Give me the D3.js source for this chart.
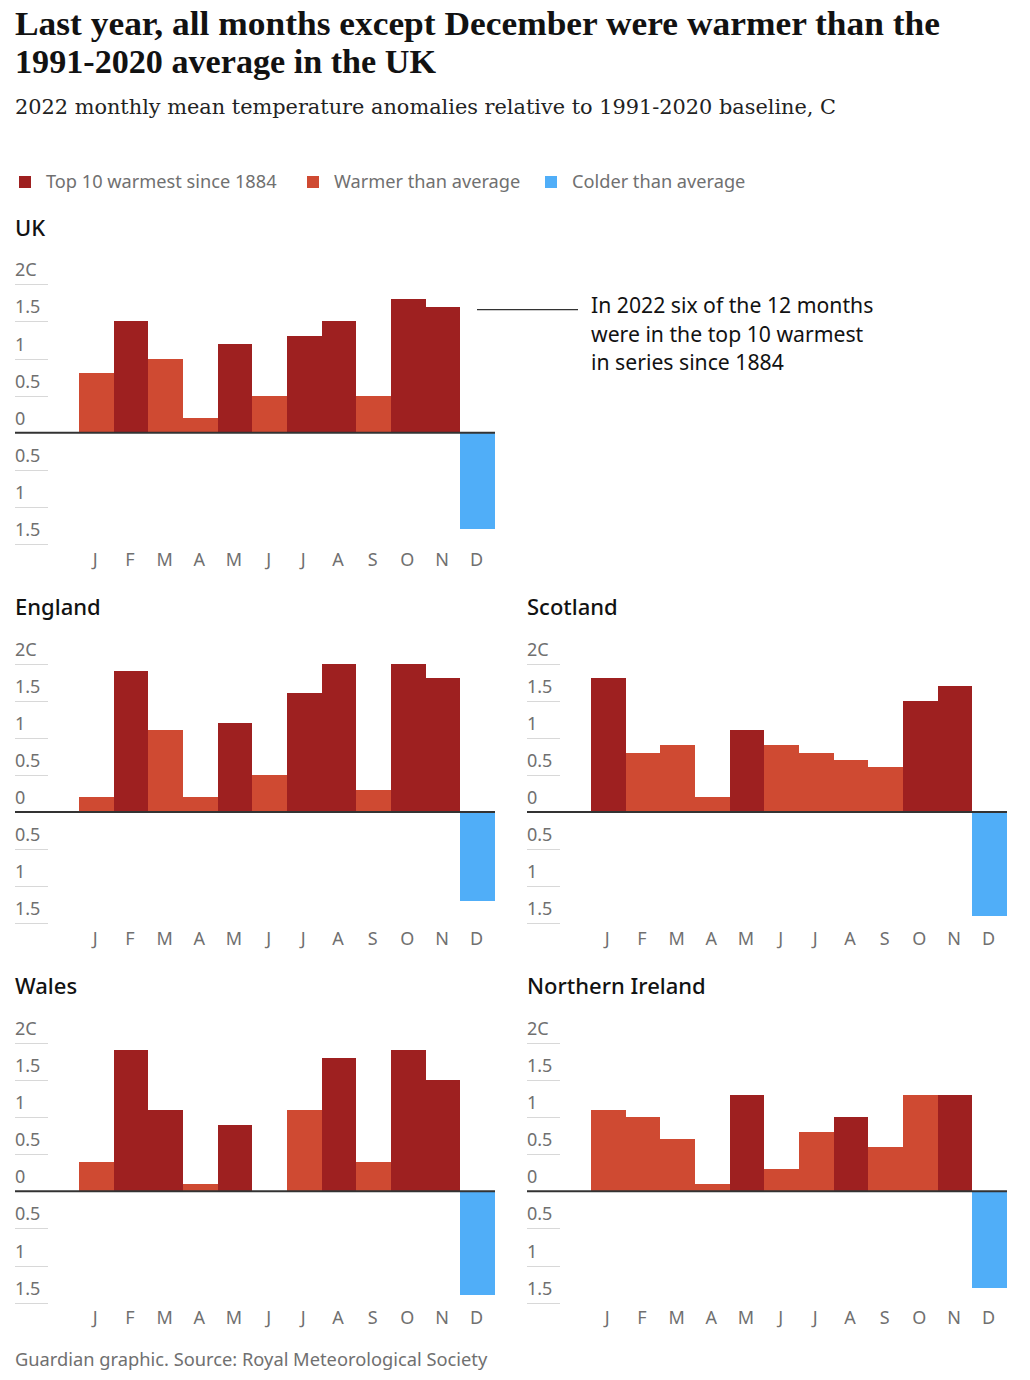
<!DOCTYPE html>
<html>
<head>
<meta charset="utf-8">
<script src="https://cdn.jsdelivr.net/npm/d3@7"></script>
<style>
  html, body { margin: 0; padding: 0; background: #fff; }
  svg { display: block; }
</style>
</head>
<body>
<svg id="chart" width="1030" height="1380"></svg>
<script>
// ---------------- DATA ----------------
const months = ["J","F","M","A","M","J","J","A","S","O","N","D"];
const tickValues = [-1.5, -1, -0.5, 0, 0.5, 1, 1.5, 2];
const tickLabels = ["1.5", "1", "0.5", "0", "0.5", "1", "1.5", "2C"];

const regionNames = ["UK", "England", "Scotland", "Wales", "Northern Ireland"];

const ukValues       = [0.8, 1.5, 1.0, 0.2, 1.2, 0.5, 1.3, 1.5, 0.5, 1.8, 1.7, -1.3];
const ukClass        = ["warm","top","warm","warm","top","warm","top","top","warm","top","top","cold"];
const englandValues  = [0.2, 1.9, 1.1, 0.2, 1.2, 0.5, 1.6, 2.0, 0.3, 2.0, 1.8, -1.2];
const englandClass   = ["warm","top","warm","warm","top","warm","top","top","warm","top","top","cold"];
const scotlandValues = [1.8, 0.8, 0.9, 0.2, 1.1, 0.9, 0.8, 0.7, 0.6, 1.5, 1.7, -1.4];
const scotlandClass  = ["top","warm","warm","warm","top","warm","warm","warm","warm","top","top","cold"];
const walesValues    = [0.4, 1.9, 1.1, 0.1, 0.9, 0.0, 1.1, 1.8, 0.4, 1.9, 1.5, -1.4];
const walesClass     = ["warm","top","top","warm","top","warm","warm","top","warm","top","top","cold"];
const niValues       = [1.1, 1.0, 0.7, 0.1, 1.3, 0.3, 0.8, 1.0, 0.6, 1.3, 1.3, -1.3];
const niClass        = ["warm","warm","warm","warm","top","warm","warm","top","warm","warm","top","cold"];

const legendKeys   = ["top", "warm", "cold"];
const legendLabels = ["Top 10 warmest since 1884", "Warmer than average", "Colder than average"];

const titleLines = ["Last year, all months except December were warmer than the", "1991-2020 average in the UK"];
const subtitle = "2022 monthly mean temperature anomalies relative to 1991-2020 baseline, C";
const annotationLines = ["In 2022 six of the 12 months", "were in the top 10 warmest", "in series since 1884"];
const footer = "Guardian graphic. Source: Royal Meteorological Society";

// ---------------- STYLE / LAYOUT ----------------
const colors = { top: "#9e2020", warm: "#cf4a32", cold: "#50aef8" };
const sans = "'Noto Sans', 'Open Sans', sans-serif";
const gray = "#707070";
const ink = "#121212";

const svg = d3.select("#chart");
const color = d3.scaleOrdinal().domain(legendKeys).range(legendKeys.map(k => colors[k]));

// Title
const title = svg.append("g");
titleLines.forEach((t, i) => {
  const tx = title.append("text")
    .attr("x", 15).attr("y", 35 + i * 38)
    .attr("font-family", "'Liberation Serif', 'Times New Roman', serif")
    .attr("font-weight", 700).attr("font-size", 34)
    .attr("fill", ink).text(t);
  const target = i === 0 ? 925 : 421;
  tx.attr("textLength", target).attr("lengthAdjust", "spacingAndGlyphs");
});

svg.append("text")
  .attr("x", 15).attr("y", 114)
  .attr("font-family", "'DejaVu Serif', serif")
  .attr("font-size", 19.5).attr("fill", "#222")
  .attr("textLength", 821).attr("lengthAdjust", "spacingAndGlyphs")
  .text(subtitle);

// Legend
const legendX = [19, 307, 545];
const legend = svg.append("g");
legendKeys.forEach((k, i) => {
  legend.append("rect")
    .attr("x", legendX[i]).attr("y", 176).attr("width", 12).attr("height", 12)
    .attr("fill", color(k));
  legend.append("text")
    .attr("x", legendX[i] + 27).attr("y", 188)
    .attr("font-family", sans).attr("font-size", 18.2)
    .attr("fill", gray).text(legendLabels[i]);
});

// Panels
const perC = 74.2;
const panels = [
  { name: regionNames[0], values: ukValues,       cls: ukClass,       x0: 15,  zero: 432.7 },
  { name: regionNames[1], values: englandValues,  cls: englandClass,  x0: 15,  zero: 812 },
  { name: regionNames[2], values: scotlandValues, cls: scotlandClass, x0: 527, zero: 812 },
  { name: regionNames[3], values: walesValues,    cls: walesClass,    x0: 15,  zero: 1191.3 },
  { name: regionNames[4], values: niValues,       cls: niClass,       x0: 527, zero: 1191.3 }
];

panels.forEach(p => {
  const g = svg.append("g");
  const y = d3.scaleLinear().domain([-1.5, 2]).range([p.zero + 1.5 * perC, p.zero - 2 * perC]);
  const x = d3.scaleBand().domain(d3.range(12)).range([p.x0 + 64, p.x0 + 480]).padding(0);

  // region title
  g.append("text")
    .attr("x", p.x0).attr("y", p.zero - 197)
    .attr("font-family", sans).attr("font-weight", 500).attr("font-size", 22)
    .attr("fill", ink).text(p.name);

  // gridlines + tick labels
  tickValues.forEach((v, i) => {
    if (v !== 0) {
      g.append("line")
        .attr("x1", p.x0).attr("x2", p.x0 + 33)
        .attr("y1", Math.round(y(v)) + 0.5).attr("y2", Math.round(y(v)) + 0.5)
        .attr("stroke", "#d8d8d8").attr("stroke-width", 1);
    }
    g.append("text")
      .attr("x", p.x0).attr("y", y(v) - 8)
      .attr("font-family", sans).attr("font-size", 18)
      .attr("fill", gray).text(tickLabels[i]);
  });

  // bars
  g.append("g").selectAll("rect")
    .data(p.values)
    .join("rect")
    .attr("x", (d, i) => x(i))
    .attr("width", x.bandwidth())
    .attr("y", d => y(Math.max(0, d)))
    .attr("height", d => Math.abs(y(d) - y(0)))
    .attr("fill", (d, i) => color(p.cls[i]))
    .attr("shape-rendering", "crispEdges");

  // zero line
  g.append("line")
    .attr("x1", p.x0).attr("x2", p.x0 + 480)
    .attr("y1", y(0)).attr("y2", y(0))
    .attr("stroke", "#333").attr("stroke-width", 2);

  // month labels
  g.append("g").selectAll("text")
    .data(months)
    .join("text")
    .attr("x", (d, i) => x(i) + x.bandwidth() / 2 - 1)
    .attr("y", p.zero + 133)
    .attr("text-anchor", "middle")
    .attr("font-family", sans).attr("font-size", 18)
    .attr("fill", gray).text(d => d);

  // annotation for UK
  if (p.name === "UK") {
    const ay = y(1.66);
    g.append("line")
      .attr("x1", 477).attr("x2", 578)
      .attr("y1", ay).attr("y2", ay)
      .attr("stroke", "#333").attr("stroke-width", 1.2);
    annotationLines.forEach((t, i) => {
      g.append("text")
        .attr("x", 591).attr("y", 313 + i * 28.5)
        .attr("font-family", sans).attr("font-size", 21.2)
        .attr("fill", ink).text(t);
    });
  }
});

// Footer
svg.append("text")
  .attr("x", 15).attr("y", 1366)
  .attr("font-family", sans).attr("font-size", 18.3)
  .attr("fill", gray).text(footer);
</script>
</body>
</html>
